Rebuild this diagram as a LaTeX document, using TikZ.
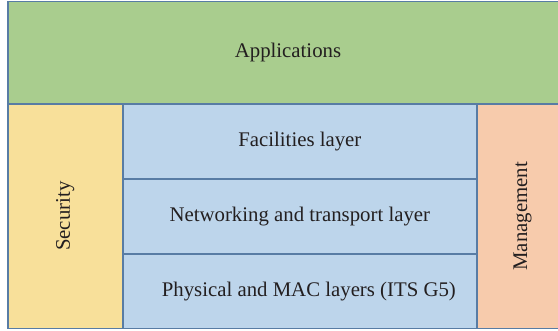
\documentclass[tikz,border=0pt]{standalone}
\usepackage{fontspec}
\setmainfont{Liberation Serif}
\usetikzlibrary{positioning}
\definecolor{appgreen}{RGB}{169,205,142}
\definecolor{secyellow}{RGB}{248,224,154}
\definecolor{layerblue}{RGB}{189,213,235}
\definecolor{mgmtorange}{RGB}{247,203,172}
\definecolor{edgeblue}{RGB}{88,124,164}
\definecolor{inkgrey}{RGB}{35,31,32}
\tikzset{
  labeltext/.style={text=inkgrey, font=\fontsize{20.8}{24}\selectfont},
  block/.style={draw=edgeblue, line width=1.6pt, inner sep=0pt, outer sep=0pt, labeltext},
}
\begin{document}
\begin{tikzpicture}[x=1pt,y=1pt]
  \useasboundingbox (0,0) rectangle (558,330);
  \clip (0,0) rectangle (558,330);
  % top band, running off the right edge
  \node[block, fill=appgreen, minimum width=560pt, minimum height=102.5pt]
    (apps) at (288,277.25) {Applications};
  % side columns
  \node[block, fill=secyellow, minimum width=114.7pt, minimum height=224.5pt]
    (sec) at (65.35,113.75) {};
  \node[labeltext, rotate=90] (seclabel) at (sec.center) {Security};
  \node[block, fill=mgmtorange, minimum width=91pt, minimum height=224.5pt]
    (mgmt) at (522.5,113.75) {};
  \node[labeltext, rotate=90] (mgmtlabel) at (mgmt.center) {Management};
  % protocol layers
  \node[block, fill=layerblue, minimum width=354.3pt, minimum height=75pt]
    (fac) at (299.85,188.5) {Facilities layer};
  \node[block, fill=layerblue, minimum width=354.3pt, minimum height=75pt]
    (net) at (299.85,113.5) {Networking and transport layer};
  \node[block, fill=layerblue, minimum width=354.3pt, minimum height=74.5pt]
    (phy) at (299.85,38.75) {};
  \node[labeltext] (phylabel) at ([xshift=9pt]phy.center) {Physical and MAC layers (ITS G5)};
\end{tikzpicture}
\end{document}
